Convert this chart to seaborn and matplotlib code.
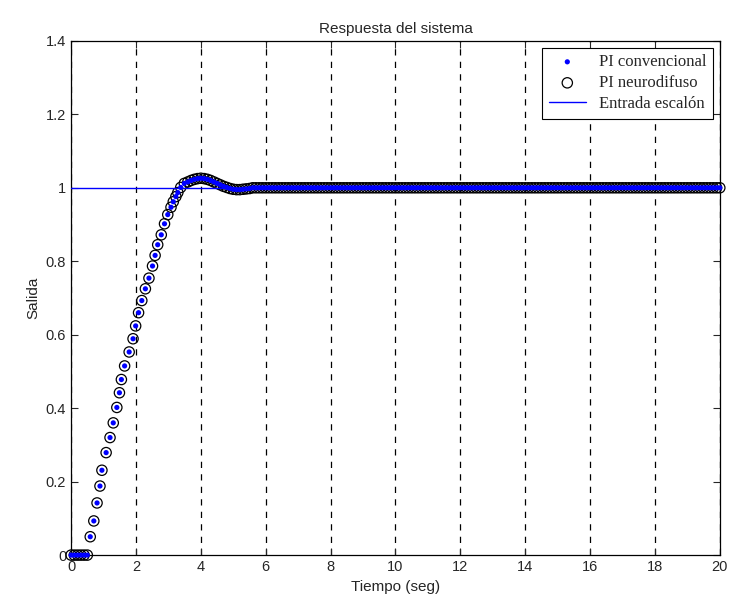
import numpy as np
import pandas as pd
import matplotlib
matplotlib.use("Agg")
import matplotlib.pyplot as plt
import seaborn as sns

# valores (tiempo en s, salida)
t_resp = [0.0, 0.1, 0.2, 0.3, 0.4, 0.5, 0.59, 0.70, 0.80, 0.89, 0.95, 1.08, 1.20, 1.30,
          1.41, 1.49, 1.55, 1.65, 1.79, 1.91, 1.99, 2.08, 2.18, 2.29, 2.40, 2.51,
          2.59, 2.67, 2.78, 2.88, 2.98, 3.08, 3.15, 3.23, 3.29, 3.38, 3.49, 3.6,
          3.7, 3.8, 3.9, 4.0, 4.1, 4.2, 4.3, 4.4, 4.5, 4.6, 4.7, 4.8, 4.9, 5.0,
          5.1, 5.2, 5.3, 5.4, 5.5]
y_conv = [0.0, 0.0, 0.0, 0.0, 0.0, 0.0, 0.050, 0.093, 0.142, 0.188, 0.231, 0.279, 0.320,
          0.360, 0.402, 0.442, 0.478, 0.515, 0.553, 0.589, 0.624, 0.660, 0.693,
          0.725, 0.754, 0.787, 0.816, 0.845, 0.872, 0.902, 0.927, 0.947, 0.962,
          0.976, 0.987, 1.001, 1.012, 1.016, 1.020, 1.023, 1.025, 1.026, 1.025,
          1.023, 1.020, 1.016, 1.012, 1.008, 1.004, 1.001, 0.998, 0.996, 0.995,
          0.995, 0.996, 0.997, 0.998]
y_neuro = list(y_conv)

# tramo final estable en 1
t_tail = list(np.round(np.arange(5.6, 20.01, 0.1), 2))
y_tail = [1.0] * len(t_tail)

t_step = [0, 20]
y_step = [1, 1]

df = pd.DataFrame({"t": t_resp + t_tail,
                   "conv": y_conv + y_tail,
                   "neuro": y_neuro + y_tail})
step = pd.DataFrame({"t": t_step, "u": y_step})

sns.set_style("ticks")
plt.rcParams["font.family"] = ["Liberation Sans", "DejaVu Sans"]

fig = plt.figure(figsize=(7.33, 6.10), dpi=100)
ax = fig.add_axes([0.097, 0.09, 0.885, 0.843])

sns.scatterplot(data=df, x="t", y="conv", ax=ax, marker="o", s=14, color="blue",
                edgecolor="none", label="PI convencional", zorder=3, clip_on=False)
sns.scatterplot(data=df, x="t", y="neuro", ax=ax, marker="o", s=55, facecolor="none",
                edgecolor="black", linewidth=0.9, label="PI neurodifuso", zorder=2,
                clip_on=False)
sns.lineplot(data=step, x="t", y="u", ax=ax, color="blue", linewidth=1.0,
             label="Entrada escalón", zorder=4)

ax.set_xlim(0, 20)
ax.set_ylim(0, 1.4)
ax.set_xticks(np.arange(0, 21, 2))
ax.set_yticks([0, 0.2, 0.4, 0.6, 0.8, 1, 1.2, 1.4])
ax.set_yticklabels(["0", "0.2", "0.4", "0.6", "0.8", "1", "1.2", "1.4"])
ax.tick_params(direction="in", top=True, right=True, length=5, labelsize=10.5, width=0.8)
ax.xaxis.grid(True, linestyle=(0, (5, 5)), color="black", linewidth=0.9)
ax.yaxis.grid(False)
for s in ax.spines.values():
    s.set_linewidth(0.9)
    s.set_color("black")

ax.set_title("Respuesta del sistema", fontsize=11)
ax.set_xlabel("Tiempo (seg)", fontsize=11)
ax.set_ylabel("Salida", fontsize=11)

leg = ax.legend(loc="upper right", prop={"family": "Liberation Serif", "size": 12},
                frameon=True, fancybox=False, edgecolor="black", framealpha=1,
                labelspacing=0.3, handlelength=2.2, borderaxespad=0.4)
leg.get_frame().set_linewidth(0.8)

fig.savefig("out.png", dpi=100)
